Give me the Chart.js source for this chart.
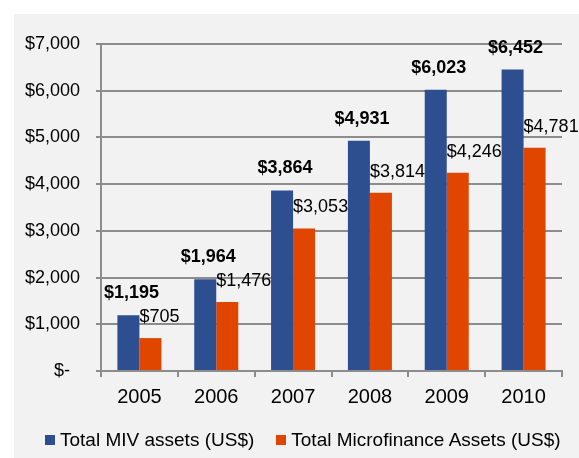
<!DOCTYPE html>
<html>
<head>
<meta charset="utf-8">
<script src="https://cdn.jsdelivr.net/npm/chart.js@4.4.1/dist/chart.umd.min.js"></script>
<style>
    html, body { margin: 0; padding: 0; background: #fff; }
    #panel { position: absolute; left: 14px; top: 14px; width: 565px; height: 444px; background: #f2f2f2; }
    #chartBox { position: absolute; left: 0; top: 0; width: 565px; height: 444px; }
    #legend {
        position: absolute; left: 0; top: 414px; width: 565px; height: 24px;
        display: flex; align-items: center; gap: 22px; padding-left: 31px; box-sizing: border-box;
        font: 19px "Liberation Sans", Arial, sans-serif; color: #000;
    }
    .legend-item { display: flex; align-items: center; white-space: nowrap; }
    .legend-item i { display: inline-block; width: 10px; height: 10px; margin-right: 5px; }
</style>
</head>
<body>
<div id="panel">
    <div id="chartBox"><canvas id="assetsChart"></canvas></div>
    <div id="legend"></div>
</div>
<script>
// Chart data
const years = ['2005', '2006', '2007', '2008', '2009', '2010'];
const mivAssets = [1195, 1964, 3864, 4931, 6023, 6452];
const microfinanceAssets = [705, 1476, 3053, 3814, 4246, 4781];
const seriesNames = ['Total MIV assets (US$)', 'Total Microfinance Assets (US$)'];
const seriesColors = ['#2E4F8F', '#E04600'];

const FONT = '"Liberation Sans", Arial, sans-serif';
const gridColor = '#8c8c8c';

function money(v) {
    return '$' + v.toLocaleString('en-US');
}

// Value labels above the bars
const barLabels = {
    id: 'barLabels',
    afterDatasetsDraw(chart) {
        const ctx = chart.ctx;
        ctx.save();
        ctx.fillStyle = '#000';
        ctx.textBaseline = 'middle';
        chart.data.datasets.forEach((ds, di) => {
            const meta = chart.getDatasetMeta(di);
            meta.data.forEach((bar, i) => {
                const text = money(ds.data[i]);
                if (di === 0) {
                    ctx.font = 'bold 18px ' + FONT;
                    ctx.textAlign = 'center';
                    ctx.fillText(text, bar.x + 3, bar.y - 22);
                } else {
                    ctx.font = '18px ' + FONT;
                    ctx.textAlign = 'left';
                    ctx.fillText(text, bar.x - bar.width / 2, bar.y - 21);
                }
            });
        });
        ctx.restore();
    }
};

const ctx = document.getElementById('assetsChart').getContext('2d');
new Chart(ctx, {
    type: 'bar',
    data: {
        labels: years,
        datasets: [
            { label: seriesNames[0], data: mivAssets, backgroundColor: seriesColors[0] },
            { label: seriesNames[1], data: microfinanceAssets, backgroundColor: seriesColors[1] }
        ]
    },
    options: {
        responsive: true,
        maintainAspectRatio: false,
        animation: false,
        datasets: {
            bar: { categoryPercentage: 0.573, barPercentage: 1.0, borderWidth: 0 }
        },
        layout: {
            padding: { top: 30, right: 17, bottom: 49, left: 0 }
        },
        plugins: {
            legend: { display: false },
            tooltip: { enabled: false }
        },
        scales: {
            x: {
                afterFit(scale) { scale.height = 38; },
                grid: { drawOnChartArea: false, drawTicks: true, tickLength: 6, color: gridColor, lineWidth: 2 },
                border: { display: true, color: gridColor, width: 2 },
                ticks: { color: '#000', padding: 8, font: { family: FONT, size: 20 } }
            },
            y: {
                min: 0,
                max: 7000,
                afterFit(scale) { scale.width = 87; },
                grid: { color: gridColor, lineWidth: 2, drawTicks: true, tickLength: 5 },
                border: { display: true, color: gridColor, width: 2 },
                ticks: {
                    stepSize: 1000,
                    color: '#000',
                    padding: 16,
                    font: { family: FONT, size: 18 },
                    callback: v => v === 0 ? '$-  ' : money(v)
                }
            }
        }
    },
    plugins: [barLabels]
});

// Legend
const legend = document.getElementById('legend');
seriesNames.forEach((name, i) => {
    const item = document.createElement('span');
    item.className = 'legend-item';
    item.innerHTML = `<i style="background:${seriesColors[i]}"></i>${name}`;
    legend.appendChild(item);
});
</script>
</body>
</html>
